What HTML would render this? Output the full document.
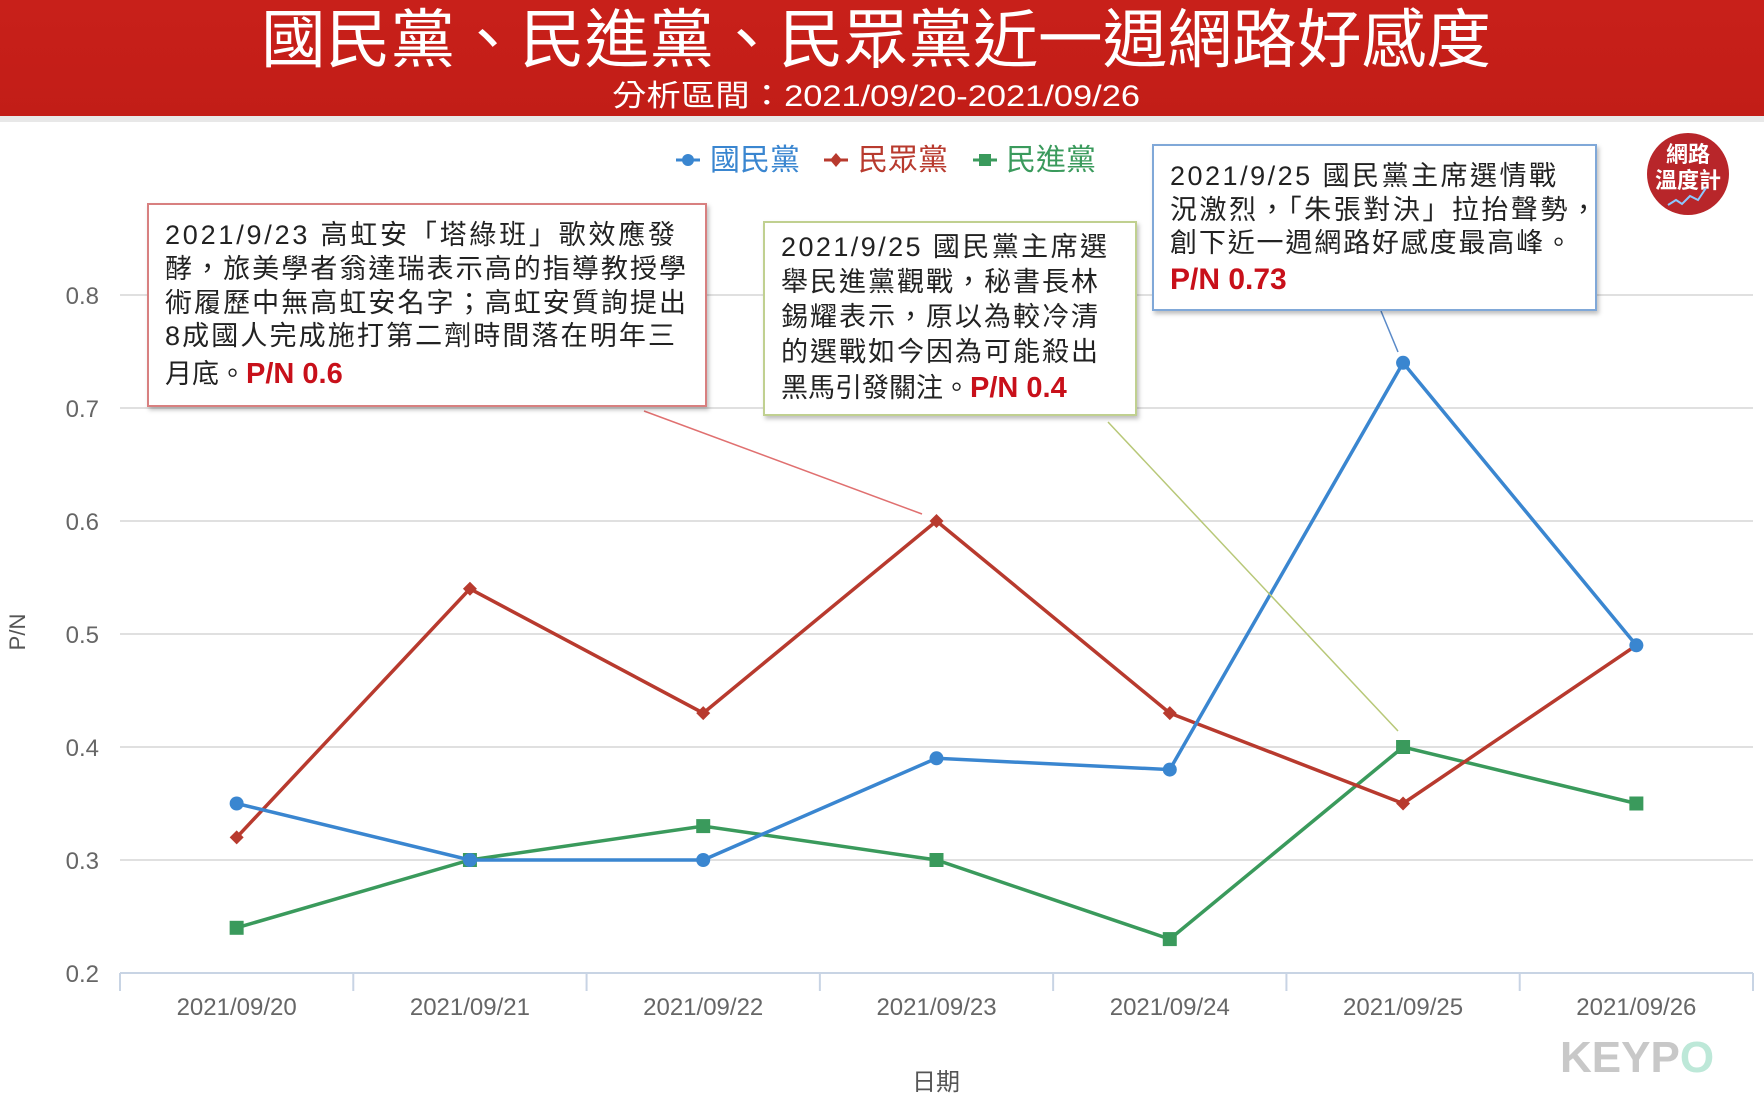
<!DOCTYPE html>
<html><head><meta charset="utf-8">
<style>
html,body{margin:0;padding:0;background:#fff;}
svg{display:block;font-family:"Liberation Sans","Noto Sans CJK TC",sans-serif;}
</style></head>
<body>
<svg id="chart" width="1764" height="1120" viewBox="0 0 1764 1120">
<defs>
<filter id="sh" x="-5%" y="-5%" width="110%" height="115%"><feDropShadow dx="2" dy="3" stdDeviation="2" flood-color="#000" flood-opacity="0.25"/></filter>
<linearGradient id="hdr" x1="0" y1="0" x2="0" y2="1"><stop offset="0" stop-color="#c8201a"/><stop offset="1" stop-color="#c21d17"/></linearGradient>
</defs>
<rect x="0" y="0" width="1764" height="116" fill="url(#hdr)"/>
<rect x="0" y="116" width="1764" height="6" fill="#e8e8e8"/>
<text x="876" y="62" text-anchor="middle" font-size="64" fill="#fff" textLength="1230" lengthAdjust="spacingAndGlyphs">國民黨、民進黨、民眾黨近一週網路好感度</text>
<text x="876" y="106" text-anchor="middle" font-size="30" fill="#fff" textLength="528" lengthAdjust="spacingAndGlyphs">分析區間：2021/09/20-2021/09/26</text>

<g id="grid"></g>
<g id="axes"></g>
<g id="series"></g>

<text x="25" y="632" transform="rotate(-90 25 632)" text-anchor="middle" font-size="22" fill="#555">P/N</text>
<text x="936" y="1090" text-anchor="middle" font-size="24" fill="#555">日期</text>

<g>
<g>
<line x1="676" y1="160" x2="700" y2="160" stroke="#3a86d0" stroke-width="3"/><circle cx="688" cy="160" r="6" fill="#3a86d0"/>
<text x="710" y="170" font-size="30" fill="#3a86d0">國民黨</text></g>
<g>
<line x1="824" y1="160" x2="848" y2="160" stroke="#b83a2e" stroke-width="3"/><path d="M836 153 L842 160 L836 167 L830 160Z" fill="#b83a2e"/>
<text x="858" y="170" font-size="30" fill="#b83a2e">民眾黨</text></g>
<g>
<line x1="973" y1="160" x2="997" y2="160" stroke="#3a9a5c" stroke-width="3"/><rect x="979" y="154" width="12" height="12" fill="#3a9a5c"/>
<text x="1006" y="170" font-size="30" fill="#3a9a5c">民進黨</text></g>
</g>

<line x1="644" y1="411" x2="922" y2="514" stroke="#e07070" stroke-width="1.5"/>
<line x1="1108" y1="422" x2="1398" y2="731" stroke="#b8c878" stroke-width="1.5"/>
<line x1="1381" y1="311" x2="1398" y2="352" stroke="#5a8ac8" stroke-width="1.5"/>

<g>
<rect x="148" y="204" width="558" height="202" fill="#fff" stroke="#d88080" stroke-width="2" filter="url(#sh)"/>
<g font-size="27" fill="#222">
<text x="165" y="244" textLength="510" lengthAdjust="spacing">2021/9/23  高虹安「塔綠班」歌效應發</text>
<text x="165" y="278" textLength="521" lengthAdjust="spacing">酵，旅美學者翁達瑞表示高的指導教授學</text>
<text x="165" y="312" textLength="521" lengthAdjust="spacing">術履歷中無高虹安名字；高虹安質詢提出</text>
<text x="165" y="345" textLength="510" lengthAdjust="spacing">8成國人完成施打第二劑時間落在明年三</text>
<text x="165" y="383">月底。<tspan fill="#c8101a" font-weight="bold" font-size="29">P/N 0.6</tspan></text>
</g></g>

<g>
<rect x="764" y="222" width="372" height="193" fill="#fff" stroke="#c0d090" stroke-width="2" filter="url(#sh)"/>
<g font-size="27" fill="#222">
<text x="781" y="256" textLength="326" lengthAdjust="spacing">2021/9/25 國民黨主席選</text>
<text x="781" y="291" textLength="317" lengthAdjust="spacing">舉民進黨觀戰，秘書長林</text>
<text x="781" y="326" textLength="317" lengthAdjust="spacing">錫耀表示，原以為較冷清</text>
<text x="781" y="361" textLength="317" lengthAdjust="spacing">的選戰如今因為可能殺出</text>
<text x="781" y="397">黑馬引發關注。<tspan fill="#c8101a" font-weight="bold" font-size="29">P/N 0.4</tspan></text>
</g></g>

<g>
<rect x="1153" y="145" width="443" height="165" fill="#fff" stroke="#80a8d8" stroke-width="2" filter="url(#sh)"/>
<g font-size="27" fill="#222">
<text x="1170" y="185" textLength="386" lengthAdjust="spacing">2021/9/25 國民黨主席選情戰</text>
<text x="1170" y="219" textLength="427" lengthAdjust="spacing">況激烈，「朱張對決」拉抬聲勢，</text>
<text x="1170" y="252" textLength="402" lengthAdjust="spacing">創下近一週網路好感度最高峰。</text>
<text x="1170" y="289" fill="#c8101a" font-weight="bold" font-size="30">P/N 0.73</text>
</g></g>

<g>
<circle cx="1688" cy="174" r="41" fill="#b8262a"/>
<text x="1688" y="162" text-anchor="middle" font-size="22" fill="#fff" font-weight="bold">網路</text>
<text x="1688" y="188" text-anchor="middle" font-size="22" fill="#fff" font-weight="bold">溫度計</text>
<polyline points="1668,205 1676,200 1682,204 1690,196 1698,200 1706,188" fill="none" stroke="#8cc8ff" stroke-width="2"/>
</g>
<text x="1560" y="1072" font-size="44" font-weight="bold" fill="#c8c8c8">KEYP<tspan fill="#bde8d8">O</tspan></text>

<script>
const categories = ["2021/09/20","2021/09/21","2021/09/22","2021/09/23","2021/09/24","2021/09/25","2021/09/26"];
const kmtValues = [0.35,0.30,0.30,0.39,0.38,0.74,0.49];
const tppValues = [0.32,0.54,0.43,0.60,0.43,0.35,0.49];
const dppValues = [0.24,0.30,0.33,0.30,0.23,0.40,0.35];
const yTicks = [0.2,0.3,0.4,0.5,0.6,0.7,0.8];
const yTickLabels = ["0.2","0.3","0.4","0.5","0.6","0.7","0.8"];

const NS = "http://www.w3.org/2000/svg";
const plotL = 120, plotR = 1753;
const step = (plotR - plotL) / categories.length;
function xPos(i){ return plotL + step * (i + 0.5); }
function yPos(v){ return 973 - (v - 0.2) / 0.6 * (973 - 295); }
function mk(tag, attrs, parent){
  const e = document.createElementNS(NS, tag);
  for (const k in attrs) e.setAttribute(k, attrs[k]);
  parent.appendChild(e);
  return e;
}
const grid = document.getElementById('grid');
const axes = document.getElementById('axes');
const series = document.getElementById('series');

yTicks.forEach((t, i) => {
  if (i > 0) {
    const gl = mk('line', {x1: plotL, x2: plotR, y1: yPos(t), y2: yPos(t), stroke: '#e0e0e0', 'stroke-width': 2}, grid);
    
    
  }
  const tl = mk('text', {x: 99, y: yPos(t) + 9, 'text-anchor': 'end', 'font-size': 24, fill: '#666'}, axes);
  tl.textContent = yTickLabels[i];
  
  
});
const xa = mk('line', {x1: plotL, x2: plotR, y1: yPos(0.2), y2: yPos(0.2), stroke: '#c8d4e4', 'stroke-width': 2}, axes);


for (let i = 0; i <= categories.length; i++) {
  const tk = mk('line', {x1: plotL + step * i, x2: plotL + step * i, y1: yPos(0.2), y2: yPos(0.2) + 18, stroke: '#c8d4e4', 'stroke-width': 2}, axes);
  
  
}
categories.forEach((c, i) => {
  const tl = mk('text', {x: xPos(i), y: 1015, 'text-anchor': 'middle', 'font-size': 24, fill: '#666'}, axes);
  tl.textContent = c;
  
  
});

function drawSeries(vals, color, shape, name){
  const pts = vals.map((v, i) => xPos(i) + ',' + yPos(v)).join(' ');
  const pl = mk('polyline', {points: pts, fill: 'none', stroke: color, 'stroke-width': 3.5}, series);
  
  
  vals.forEach((v, i) => {
    const x = xPos(i), y = yPos(v);
    let m;
    if (shape === 'circle') m = mk('circle', {cx: x, cy: y, r: 7, fill: color}, series);
    else if (shape === 'square') m = mk('rect', {x: x - 7, y: y - 7, width: 14, height: 14, fill: color}, series);
    else m = mk('path', {d: 'M' + x + ' ' + (y - 7) + 'L' + (x + 7) + ' ' + y + 'L' + x + ' ' + (y + 7) + 'L' + (x - 7) + ' ' + y + 'Z', fill: color}, series);
    
    
  });
}
drawSeries(dppValues, '#3a9a5c', 'square', 'dpp');
drawSeries(tppValues, '#b83a2e', 'diamond', 'tpp');
drawSeries(kmtValues, '#3a86d0', 'circle', 'kmt');
</script>
</svg>
</body></html>
